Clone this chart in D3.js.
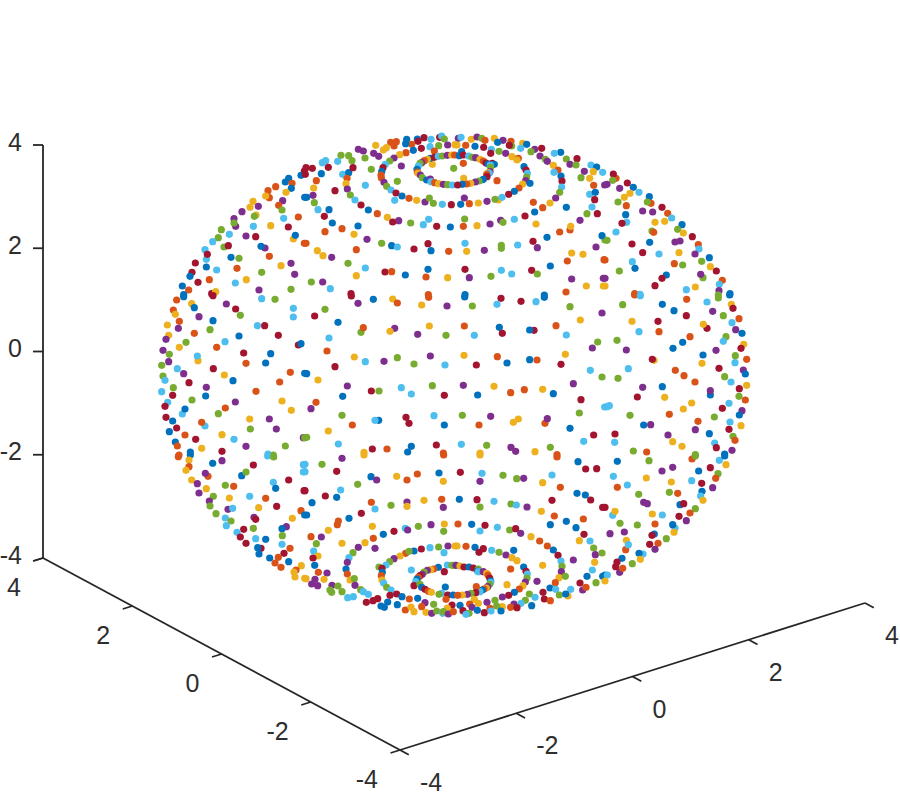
<!DOCTYPE html>
<html><head><meta charset="utf-8">
<script src="https://cdn.jsdelivr.net/npm/d3@7"></script>
<style>html,body{margin:0;padding:0;background:#fff}svg{display:block}text{font-family:"Liberation Sans",sans-serif;font-size:25px;fill:#2e2e2e}</style>
</head><body><div id="chart"></div>
<script>
// Axis ticks
const xTicks=[-4,-2,0,2,4];
const yTicks=[-4,-2,0,2,4];
const zTicks=[-4,-2,0,2,4];
// Series names/colours in reading order
const seriesColors=["#0072BD","#D95319","#EDB120","#7E2F8E","#77AC30","#4DBEEE","#A2142F"];
// Panel origins of the read-off grid
const panelU=[0,450,900,1350];
const panelV=[0,495,975];
// Points: [series, across, down] within each panel
const p00=[[6,448,123],[0,438,136],[0,401,145],[0,391,156],[1,411,160],[0,409,175],[1,362,170],[1,339,182],[2,393,187],[1,343,203],[2,332,198],[0,449,202],[3,383,212],[2,294,214],[1,371,226],[3,310,229],[2,285,232],[4,381,240],[3,261,245],[2,303,255],[4,298,259],[5,386,265],[1,430,261],[3,237,266],[3,242,289],[4,237,279],[2,347,287],[5,295,289],[6,400,291],[4,199,299],[5,223,313],[3,273,318],[6,302,320],[2,415,327],[0,421,316],[1,448,340],[4,190,323],[5,173,335],[4,207,351],[6,220,347],[3,330,354],[0,318,349],[5,150,359],[5,154,388],[6,157,373],[0,228,382],[4,252,385],[1,343,379],[6,121,399],[0,154,411],[5,185,420],[1,246,415],[2,378,407],[3,408,400],[6,111,427],[0,105,439],[1,163,449],[4,320,427],[3,419,433],[6,129,457],[2,274,449],[5,241,459],[0,82,468],[1,101,480],[3,312,480],[4,408,478],[6,170,491],[2,182,485],[0,86,494]];
const p01=[[6,357,23],[5,378,28],[0,337,27],[6,404,22],[5,410,18],[4,418,27],[0,305,28],[6,339,34],[1,320,43],[0,302,41],[1,274,35],[1,257,37],[1,267,48],[2,212,46],[2,244,53],[2,235,60],[3,160,58],[3,175,63],[3,206,70],[3,221,79],[4,108,76],[4,131,77],[4,180,84],[4,141,92],[5,62,92],[5,52,98],[5,98,94],[6,22,115],[6,3,113],[6,1,133],[6,70,112],[0,49,131],[5,113,133],[0,131,128],[6,144,113],[4,199,118],[1,126,145],[1,34,152],[2,123,161],[5,181,166],[3,127,177],[6,90,182],[2,26,174],[3,24,196],[0,5,202],[4,136,195],[4,28,218],[5,150,210],[5,39,239],[0,72,239],[6,168,225],[0,190,240],[6,58,259],[1,217,251],[2,247,262],[3,281,272],[6,263,276],[4,317,279],[5,371,268],[5,355,284],[6,395,289],[0,436,291],[0,82,279],[1,111,296],[0,159,288],[1,60,305],[2,147,313],[3,186,328],[4,230,340],[0,260,347],[5,277,351],[6,327,357],[6,369,341],[0,378,362],[1,431,364],[1,3,340],[2,37,362],[2,54,377],[3,80,382],[1,154,359],[4,129,400],[5,181,414],[6,240,426],[1,260,425],[0,301,435],[1,363,441],[0,369,418],[2,428,443],[2,154,437],[4,19,456],[3,53,456],[5,76,476],[6,138,491],[1,370,494],[0,325,61],[1,303,68],[6,349,55],[5,375,50],[4,401,47],[3,428,45],[2,450,44],[1,388,63],[2,284,74],[3,267,84],[4,254,93],[5,241,103],[6,234,113],[0,230,125],[1,228,135],[1,229,143],[3,237,157],[4,245,169],[5,258,180],[6,273,189],[0,291,198],[1,312,205],[2,335,211],[3,360,216],[4,373,204],[4,385,220],[5,412,223],[6,439,224],[5,269,211],[4,277,154],[3,289,108],[2,382,103],[4,446,115],[0,376,85],[6,388,82],[5,400,79],[4,412,78],[3,427,76],[2,440,75],[1,449,75],[2,367,88],[1,358,92],[3,350,98],[4,345,100],[5,340,108],[0,336,118],[1,337,126],[2,339,130],[3,346,135],[4,352,143],[0,365,150],[3,376,147],[5,378,155],[1,389,158],[2,401,161],[3,415,163],[4,428,164],[5,442,165]];
const p02=[[3,10,25],[5,18,22],[2,49,28],[3,66,21],[4,80,25],[2,118,25],[3,144,31],[1,168,34],[1,90,31],[0,128,37],[2,203,40],[3,239,58],[6,260,55],[0,215,43],[4,170,48],[6,163,46],[1,32,46],[2,6,45],[0,60,49],[6,86,52],[5,109,58],[5,197,55],[4,228,65],[4,132,64],[3,152,70],[6,107,70],[0,317,67],[5,298,70],[3,255,78],[2,171,80],[1,190,85],[2,186,90],[4,271,88],[3,277,94],[4,334,87],[6,366,86],[3,345,103],[4,363,105],[2,295,106],[0,207,110],[6,213,120],[5,217,130],[1,309,120],[5,297,127],[5,408,105],[0,425,111],[2,415,125],[3,388,124],[5,443,127],[4,215,141],[0,318,138],[4,378,143],[2,404,145],[6,321,153],[3,212,152],[0,225,160],[2,203,162],[1,192,174],[5,320,171],[1,416,166],[3,449,165],[0,178,184],[6,161,193],[4,314,187],[5,404,193],[0,421,187],[2,130,210],[4,120,208],[5,141,202],[3,96,214],[2,70,219],[1,43,221],[0,17,223],[3,28,204],[3,302,204],[6,419,209],[1,235,217],[2,285,219],[1,263,233],[0,334,232],[5,411,231],[0,239,246],[4,396,251],[6,427,251],[6,210,258],[5,178,268],[4,29,267],[3,137,271],[4,144,277],[3,105,282],[2,66,287],[1,25,289],[2,243,282],[3,375,271],[1,345,300],[2,347,289],[1,314,306],[0,276,322],[6,234,334],[5,30,340],[4,139,346],[4,139,355],[5,188,345],[3,247,353],[4,450,330],[0,441,317],[2,35,364],[3,88,361],[3,423,351],[2,350,369],[2,384,373],[1,337,393],[1,447,389],[0,286,408],[6,30,418],[5,139,421],[6,230,421],[4,247,432],[5,170,432],[3,43,443],[4,108,439],[3,350,447],[3,445,445],[2,394,468],[2,445,468],[0,30,494],[1,333,486],[0,268,495],[0,13,77],[0,20,65],[6,25,75],[5,41,78],[4,52,82],[3,62,83],[2,75,88],[1,85,93],[6,93,99],[0,100,102],[6,112,100],[0,118,103],[5,106,105],[4,107,112],[3,105,125],[2,100,128],[5,103,130],[1,95,133],[1,126,152],[1,25,100],[2,26,145],[6,96,140],[5,82,150],[0,85,148],[4,72,153],[3,61,156],[2,47,160],[1,35,162],[0,22,163],[6,8,165]];
const p03=[[1,33,145],[6,25,132],[4,23,151],[3,6,163],[6,67,159],[3,44,175],[0,85,172],[5,102,187],[2,75,190],[2,58,202],[0,133,200],[4,39,216],[1,138,220],[4,127,216],[1,64,227],[6,171,232],[3,113,243],[3,143,246],[1,188,250],[0,62,254],[5,200,264],[5,65,277],[6,51,280],[2,150,277],[2,179,274],[0,231,284],[4,141,303],[1,146,307],[4,218,298],[2,235,309],[5,33,306],[6,262,320],[3,210,336],[3,225,333],[0,134,337],[4,6,331],[6,81,342],[1,280,344],[5,282,357],[6,113,368],[5,162,372],[2,222,368],[3,270,372],[0,313,383],[5,82,395],[4,290,394],[1,208,401],[4,233,405],[2,316,410],[0,90,415],[6,334,423],[4,43,423],[1,0,390],[4,294,443],[3,287,433],[0,184,435],[6,171,445],[1,352,451],[5,343,463],[6,150,467],[3,0,445],[2,0,468],[2,271,471],[5,244,479],[3,342,482],[0,375,491],[1,89,491],[5,105,493],[4,340,495]];
const p10=[[1,65,15],[0,86,5],[2,110,26],[6,174,2],[3,214,27],[5,320,11],[4,360,13],[0,118,38],[6,242,42],[1,55,45],[2,61,58],[3,132,65],[4,256,61],[5,415,40],[5,415,66],[1,73,79],[0,174,77],[2,37,90],[3,70,100],[4,165,104],[5,307,92],[6,329,92],[2,41,121],[1,118,115],[3,33,133],[4,93,142],[0,252,123],[6,370,121],[5,210,140],[6,430,150],[0,438,146],[2,73,157],[1,185,157],[3,24,166],[4,43,178],[6,266,174],[0,347,176],[2,129,197],[5,127,183],[3,41,200],[4,20,211],[1,273,205],[0,332,204],[5,67,221],[6,175,221],[3,86,236],[2,208,240],[1,406,232],[0,449,235],[4,24,243],[5,30,256],[0,234,257],[6,102,263],[1,374,261],[4,55,278],[3,154,277],[5,20,290],[1,303,289],[6,53,301],[0,152,303],[4,111,315],[5,38,322],[2,381,318],[3,241,321],[6,30,334],[1,211,339],[5,82,357],[0,90,342],[2,409,346],[4,190,356],[6,33,367],[2,284,372],[3,343,372],[0,53,378],[5,150,393],[1,140,382],[6,65,399],[4,286,402],[3,364,402],[0,43,410],[1,90,420],[2,201,419],[6,122,433],[5,237,433],[3,445,428],[4,449,428],[0,61,441],[1,67,453],[2,140,460],[3,273,454],[4,391,453],[0,106,471],[6,201,469],[1,72,480],[5,339,477],[4,355,480]];
const p11=[[6,139,3],[0,205,13],[2,263,12],[1,277,24],[1,371,7],[3,159,25],[2,350,30],[3,426,33],[4,60,43],[6,29,63],[0,99,82],[4,168,112],[1,175,98],[3,269,100],[2,255,109],[2,373,93],[3,338,118],[4,423,121],[5,72,129],[1,66,168],[2,148,186],[5,181,200],[3,237,199],[4,277,188],[3,376,183],[4,327,207],[5,420,210],[6,90,215],[0,5,236],[2,39,255],[3,127,273],[6,199,288],[4,222,288],[5,289,278],[5,319,297],[4,382,272],[6,418,301],[0,113,304],[1,33,322],[3,18,341],[4,111,361],[1,142,390],[0,221,376],[5,210,376],[6,303,367],[6,312,385],[5,387,362],[0,418,390],[2,70,408],[4,5,427],[5,100,447],[6,394,450],[6,202,462],[1,246,462],[0,319,454],[0,308,471],[2,177,472],[1,415,474]];
const p12=[[0,29,6],[6,138,10],[6,198,19],[5,243,20],[0,268,7],[4,52,33],[5,126,28],[4,345,35],[2,376,75],[3,441,54],[1,28,93],[0,133,97],[6,142,115],[6,237,106],[0,224,105],[1,303,92],[5,58,121],[5,334,120],[4,428,141],[3,412,159],[2,27,181],[1,127,185],[6,64,210],[0,156,204],[0,224,194],[1,246,195],[2,331,178],[6,318,208],[5,406,226],[4,441,246],[3,25,271],[2,117,274],[0,68,300],[1,167,293],[1,208,284],[2,263,283],[0,295,296],[3,355,266],[6,378,314],[4,373,354],[4,22,361],[3,107,364],[1,72,390],[2,190,372],[2,175,382],[1,270,385],[3,277,371],[0,345,400],[6,416,420],[5,449,336],[5,19,448],[4,95,451],[3,168,457],[3,182,469],[5,386,439],[2,240,470],[4,286,457],[2,75,474],[1,306,479]];
const p13=[[4,53,29],[0,172,28],[0,207,47],[1,89,0],[5,106,2],[1,245,13],[5,306,21],[4,340,9],[0,374,0],[2,379,28],[6,384,40],[3,323,49],[4,355,62],[6,244,62],[2,81,79],[6,159,79],[1,402,71],[5,381,83],[6,306,100],[2,295,88],[3,392,104],[5,102,110],[1,162,110],[1,255,125],[0,411,115],[4,363,125],[5,355,139],[4,36,136],[0,233,142],[2,416,148],[6,408,160],[0,204,160],[3,64,165],[3,333,166],[4,391,182],[1,425,193],[0,294,180],[2,147,196],[6,142,193],[2,291,205],[5,390,203],[5,70,221],[6,342,220],[1,211,226],[3,415,225],[0,421,237],[1,237,242],[4,359,245],[4,39,250],[1,270,261],[5,378,261],[2,425,271],[6,403,281],[3,113,277],[0,172,275],[0,316,300],[3,316,287],[4,402,304],[6,97,306],[2,179,307],[1,421,315],[5,372,325],[2,260,324],[5,13,332],[5,6,335],[6,352,340],[2,235,342],[3,411,347],[0,403,360],[1,193,358],[4,328,366],[4,75,361],[5,375,381],[1,279,379],[2,408,392],[0,116,390],[3,137,389],[3,271,404],[6,372,403],[0,313,416],[3,189,420],[6,30,417],[4,384,424],[1,390,436],[2,203,440],[5,29,442],[5,329,444],[2,231,454],[6,334,458],[3,381,466],[4,85,468],[1,125,471],[0,359,477],[4,271,479]];
const p20=[[1,70,5],[0,106,0],[2,102,15],[1,102,35],[2,93,46],[0,173,25],[3,201,17],[5,338,3],[4,356,6],[6,295,30],[5,445,29],[5,445,51],[0,260,62],[4,273,51],[1,159,64],[3,151,55],[2,110,75],[3,127,86],[5,355,82],[6,401,75],[4,211,91],[1,236,94],[2,154,101],[0,362,100],[6,447,107],[3,132,114],[4,175,124],[2,223,129],[5,284,124],[1,332,130],[3,163,138],[4,165,153],[6,365,154],[2,311,158],[3,219,163],[5,233,160],[4,183,176],[1,438,167],[0,449,180],[5,211,189],[3,297,187],[6,302,193],[2,412,190],[4,228,198],[5,214,212],[3,394,215],[0,381,221],[4,295,220],[6,266,223],[5,246,232],[6,256,246],[5,302,251],[0,332,253],[4,382,242],[6,273,265],[5,381,268],[6,318,280],[0,308,278],[1,405,280],[0,312,297],[6,387,295],[0,344,309],[1,370,307],[0,401,320],[1,360,324],[1,378,337],[2,439,332],[1,423,345],[2,417,351],[2,420,366],[2,449,370]];
const p21=[[2,177,0],[1,416,0],[3,111,10],[4,51,28],[6,95,49],[5,0,28],[5,0,50],[0,198,65],[3,215,75],[2,275,64],[1,306,75],[1,337,57],[0,402,54],[2,415,79],[4,158,88],[5,107,105],[6,0,107],[6,61,123],[0,95,127],[0,21,143],[1,199,142],[5,210,162],[4,258,151],[3,306,141],[2,306,154],[2,357,136],[1,410,133],[3,415,157],[6,169,175],[0,132,190],[0,5,180],[1,100,198],[1,97,209],[2,70,226],[2,202,214],[5,301,220],[3,308,225],[4,340,214],[3,378,209],[2,418,207],[4,416,229],[6,267,229],[0,235,238],[1,205,250],[1,18,245],[3,49,246],[4,34,266],[2,111,265],[2,180,263],[3,160,277],[3,210,280],[5,26,288],[2,39,303],[6,24,309],[4,144,293],[5,132,308],[3,127,322],[0,29,331],[0,123,342],[1,40,352],[3,66,354],[1,127,357],[2,3,371],[2,57,373],[2,135,375],[4,148,371],[3,30,373],[3,20,387],[3,38,392],[3,81,391],[3,150,391],[4,99,393],[4,75,405],[4,80,412],[4,111,410],[4,167,404],[5,175,410],[5,190,418],[5,128,428],[5,145,425],[6,218,431],[6,204,437],[6,184,442],[0,228,453],[0,238,457],[0,248,441],[4,449,331],[3,429,273],[2,450,273],[4,401,276],[5,375,278],[6,349,282],[0,327,288],[1,302,295],[4,312,289],[2,285,303],[3,267,311],[4,254,320],[5,243,330],[4,222,336],[6,231,340],[0,232,352],[1,229,362],[2,231,375],[5,236,384],[4,245,397],[5,258,405],[6,275,417],[6,255,421],[0,291,425],[1,313,432],[0,338,430],[3,360,443],[4,386,448],[5,319,345],[5,417,293],[6,418,350],[0,400,337],[1,386,342],[2,377,344],[3,367,346],[5,427,330],[4,441,331],[4,357,351],[3,352,358],[6,345,362],[1,340,367],[0,336,372],[5,332,380],[6,327,392],[4,345,388],[0,350,397],[6,360,403],[1,370,409],[2,379,412],[5,410,415],[4,402,418],[0,421,396],[6,428,420],[0,444,420],[1,423,433],[6,441,450],[2,427,459],[1,350,455],[0,277,449],[1,301,465],[2,318,456],[2,327,470],[2,363,472],[3,380,475],[4,395,468],[5,413,475],[4,415,470],[3,430,477],[1,445,470]];
const p22=[[2,75,0],[1,306,6],[0,369,20],[6,392,42],[6,425,41],[6,16,52],[5,81,55],[4,144,61],[4,185,71],[3,206,70],[5,291,60],[3,75,79],[2,263,83],[1,316,97],[0,366,115],[0,391,120],[6,407,135],[6,291,136],[6,443,157],[0,13,133],[6,66,134],[5,117,139],[4,168,147],[5,184,150],[3,216,156],[4,75,156],[2,259,169],[1,298,183],[1,385,192],[0,334,199],[0,286,209],[0,363,218],[1,9,207],[0,50,208],[6,90,211],[5,127,217],[4,164,225],[6,182,221],[3,197,235],[5,75,228],[2,228,245],[6,387,238],[1,254,258],[2,373,257],[5,405,258],[1,277,273],[4,416,279],[2,6,273],[1,33,274],[0,60,277],[6,85,281],[6,72,292],[5,110,286],[4,132,292],[0,176,286],[3,153,300],[0,295,285],[6,309,301],[3,421,299],[4,441,294],[2,171,308],[2,186,317],[5,318,318],[3,355,315],[2,419,322],[4,321,334],[1,167,342],[0,206,336],[2,263,331],[6,213,349],[3,319,350],[5,412,345],[0,396,364],[0,443,364],[5,217,357],[4,216,369],[2,312,368],[4,331,364],[3,211,381],[3,246,379],[1,301,383],[6,375,384],[4,423,383],[2,156,389],[2,204,392],[1,193,402],[0,285,399],[3,383,405],[1,393,397],[5,302,403],[5,347,403],[0,178,412],[6,161,421],[6,264,412],[4,223,417],[3,142,426],[5,240,427],[2,339,423],[4,313,420],[0,332,417],[6,268,432],[1,286,437],[4,120,436],[3,96,442],[2,142,455],[4,125,453],[4,211,436],[3,177,447],[5,198,445],[0,230,452],[1,167,457],[6,186,458],[3,3,331],[2,15,333],[6,27,336],[0,42,336],[6,55,339],[4,70,342],[0,68,348],[5,70,350],[3,85,350],[2,95,355],[1,99,360],[6,104,369],[0,107,378],[5,107,382],[4,104,388],[3,98,395],[2,94,399],[1,87,402],[0,82,405],[5,75,410],[1,64,395],[6,62,413],[4,48,415],[3,37,418],[2,22,420],[1,8,421],[0,15,451],[2,58,433],[2,70,445],[1,44,447],[3,51,457],[0,67,466],[6,88,473],[4,42,475],[0,138,468],[1,105,460],[5,108,468],[6,24,467],[5,33,478]];
const p23=[[1,261,12],[4,271,3],[0,37,19],[4,132,17],[5,343,16],[0,359,3],[2,363,29],[3,203,37],[6,316,38],[3,171,48],[0,281,48],[4,339,56],[5,25,64],[2,124,69],[1,332,70],[5,260,77],[6,290,85],[2,199,81],[5,67,90],[1,37,97],[3,323,98],[4,193,112],[1,218,115],[0,291,109],[4,101,118],[5,287,123],[2,294,136],[3,116,142],[3,127,146],[0,225,149],[6,236,146],[4,271,161],[6,0,157],[5,23,181],[2,30,169],[2,142,177],[5,172,180],[1,255,174],[6,222,184],[3,244,197],[4,45,205],[4,97,210],[1,150,207],[5,210,219],[0,203,209],[2,207,232],[3,15,236],[3,58,231],[0,148,237],[6,141,241],[4,184,251],[2,64,256],[1,62,284],[5,70,269],[6,134,268],[1,159,265],[3,150,283],[5,114,297],[0,102,295],[2,106,313],[0,51,310],[4,82,326],[3,44,352],[6,36,321],[6,32,335],[1,53,340],[0,0,360],[5,7,360],[2,0,378]];
const panels=[[p00,p01,p02,p03],[p10,p11,p12,p13],[p20,p21,p22,p23]];

const W=900,H=800,ink="#262626";
const svg=d3.select("#chart").append("svg").attr("width",W).attr("height",H);

// Read-off grid -> page
const across=d3.scaleLinear().domain([0,1800]).range([155,755]);
const down=d3.scaleLinear().domain([0,1470]).range([130,620]);
const color=d3.scaleOrdinal().domain(d3.range(seriesColors.length)).range(seriesColors);

// Axis scales along the three drawn box edges
const zS=d3.scaleLinear().domain([-4,4]).range([558,145]);
const yPx=d3.scaleLinear().domain([-4,4]).range([400,43]);
const yPy=d3.scaleLinear().domain([-4,4]).range([750,558]);
const xPx=d3.scaleLinear().domain([-4,4]).range([400,865]);
const xPy=d3.scaleLinear().domain([-4,4]).range([750,603]);

const axes=svg.append("g").attr("stroke",ink).attr("stroke-width",1.8).attr("fill","none");
const seg=(a,b,c,d)=>axes.append("line").attr("x1",a).attr("y1",b).attr("x2",c).attr("y2",d);
seg(43,zS(4),43,zS(-4));
seg(yPx(4),yPy(4),yPx(-4),yPy(-4));
seg(xPx(-4),xPy(-4),xPx(4),xPy(4));
zTicks.forEach(t=>{seg(43,zS(t),33,zS(t)+(t===-4?3:0));});
yTicks.forEach(t=>{seg(yPx(t),yPy(t),yPx(t)-9.5,yPy(t)+3);});
xTicks.forEach(t=>{seg(xPx(t),xPy(t),xPx(t)+8.8,xPy(t)+4.7);});

const fmt=d=>String(d);
const labels=svg.append("g");
zTicks.forEach(t=>labels.append("text").attr("x",22).attr("y",zS(t)-3.5).attr("text-anchor","end").attr("dominant-baseline","central").text(fmt(t)));
yTicks.forEach(t=>labels.append("text").attr("x",yPx(t)-22).attr("y",yPy(t)+29).attr("text-anchor","end").attr("dominant-baseline","central").text(fmt(t)));
xTicks.forEach(t=>labels.append("text").attr("x",xPx(t)+20).attr("y",xPy(t)+32).attr("text-anchor","start").attr("dominant-baseline","central").text(fmt(t)));

// Points
const flat=panels.flatMap((row,r)=>row.flatMap((pts,c)=>pts.map(p=>({s:p[0],u:panelU[c]+p[1],v:panelV[r]+p[2]}))));
svg.append("g").selectAll("circle").data(flat).join("circle")
  .attr("cx",d=>across(d.u)).attr("cy",d=>down(d.v)).attr("r",3.6).attr("fill",d=>color(d.s));
</script></body></html>
